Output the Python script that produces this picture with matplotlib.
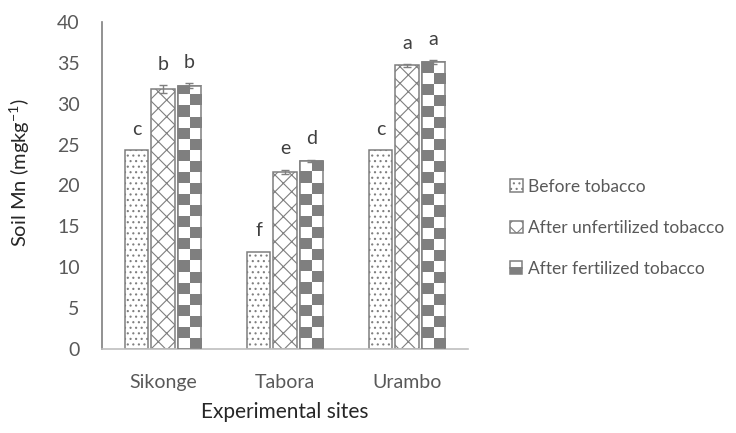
import numpy as np
import matplotlib.pyplot as plt
from matplotlib.colors import ListedColormap
from matplotlib.patches import Rectangle

plt.rcParams['font.family'] = ['Lato', 'DejaVu Sans']
plt.rcParams['hatch.linewidth'] = 0.8

# data
sites = ['Sikonge', 'Tabora', 'Urambo']
series = ['Before tobacco', 'After unfertilized tobacco', 'After fertilized tobacco']
before = [24.3, 11.9, 24.3]
unfert = [31.8, 21.7, 34.7]
fert = [32.2, 23.0, 35.1]
err_unfert = [0.5, 0.25, 0.15]
err_fert = [0.3, 0.15, 0.25]
lab_before = ['c', 'f', 'c']
lab_unfert = ['b', 'e', 'a']
lab_fert = ['b', 'd', 'a']

gray = '#7f7f7f'
txt = '#595959'

fig = plt.figure(figsize=(7.36, 4.33), dpi=100)
ax = fig.add_axes([102 / 736, 84 / 433, 366 / 736, 327 / 433])

x = np.arange(len(sites))
w = 0.19
step = 0.217

b1 = ax.bar(x - step, before, w, color='white', edgecolor=gray, lw=1.1, hatch='...')
b2 = ax.bar(x, unfert, w, color='white', edgecolor=gray, lw=1.1, hatch='xx',
            yerr=err_unfert, error_kw=dict(ecolor=gray, capsize=3, elinewidth=1))
b3 = ax.bar(x + step, fert, w, color='white', edgecolor=gray, lw=1.1,
            yerr=err_fert, error_kw=dict(ecolor=gray, capsize=3, elinewidth=1))

# checkerboard fill for the fertilized bars
cell = 1.35
cmap = ListedColormap(['white', gray])
for rect in b3.patches:
    h = rect.get_height()
    n = int(np.ceil(h / cell))
    board = (np.add.outer(np.arange(n), np.arange(2)) % 2)[::-1]
    x0 = rect.get_x()
    im = ax.imshow(board, cmap=cmap, extent=[x0, x0 + w, 0, n * cell],
                   aspect='auto', interpolation='nearest', zorder=rect.get_zorder())
    im.set_clip_path(rect)
    ax.add_patch(Rectangle((x0, 0), w, h, fill=False, edgecolor=gray, lw=1.1, zorder=3))

# significance letters
for bars, errs, labs in [(b1, [0, 0, 0], lab_before), (b2, err_unfert, lab_unfert),
                         (b3, err_fert, lab_fert)]:
    for rect, e, s in zip(bars.patches, errs, labs):
        ax.text(rect.get_x() + w / 2, rect.get_height() + e + 1.5, s,
                ha='center', va='bottom', fontsize=14, color='#404040')

ax.set_xlim(-0.5, 2.5)
ax.set_ylim(0, 40)
ax.set_yticks(range(0, 41, 5))
ax.set_xticks(x)
ax.set_xticklabels(sites)
ax.tick_params(length=0, labelsize=14, labelcolor=txt)
ax.tick_params(axis='y', pad=16)
ax.tick_params(axis='x', pad=18)
for s in ['top', 'right']:
    ax.spines[s].set_visible(False)
ax.spines['left'].set_color(gray)
ax.spines['left'].set_linewidth(1.2)
ax.spines['bottom'].set_color('#bfbfbf')
ax.spines['bottom'].set_linewidth(1.2)

ax.set_xlabel('Experimental sites', fontsize=15, color='#262626', labelpad=8)
ax.set_ylabel('Soil Mn (mgkg$^{\\mathregular{-1}}$)', fontsize=14.5, color='#262626')
ax.yaxis.set_label_coords(-0.19, 0.54)


class HalfHandler:
    def legend_artist(self, legend, orig_handle, fontsize, handlebox):
        x0, y0 = handlebox.xdescent, handlebox.ydescent
        hw, hh = handlebox.height, handlebox.height
        top = Rectangle((x0, y0 + hh / 2), hw, hh / 2, facecolor='white', edgecolor=gray,
                        lw=1.1, transform=handlebox.get_transform())
        bot = Rectangle((x0, y0), hw, hh / 2, facecolor=gray, edgecolor=gray,
                        lw=1.1, transform=handlebox.get_transform())
        handlebox.add_artist(top)
        handlebox.add_artist(bot)
        return top


leg = fig.legend([b1.patches[0], b2.patches[0], b3], series,
                 handler_map={type(b3): HalfHandler()},
                 loc='center left', bbox_to_anchor=(494 / 736, 1 - 228 / 433),
                 frameon=False, fontsize=12.5, labelspacing=1.45,
                 handlelength=0.75, handleheight=0.75, handletextpad=0.3)
for t in leg.get_texts():
    t.set_color(txt)

fig.savefig('out.png', dpi=100)
